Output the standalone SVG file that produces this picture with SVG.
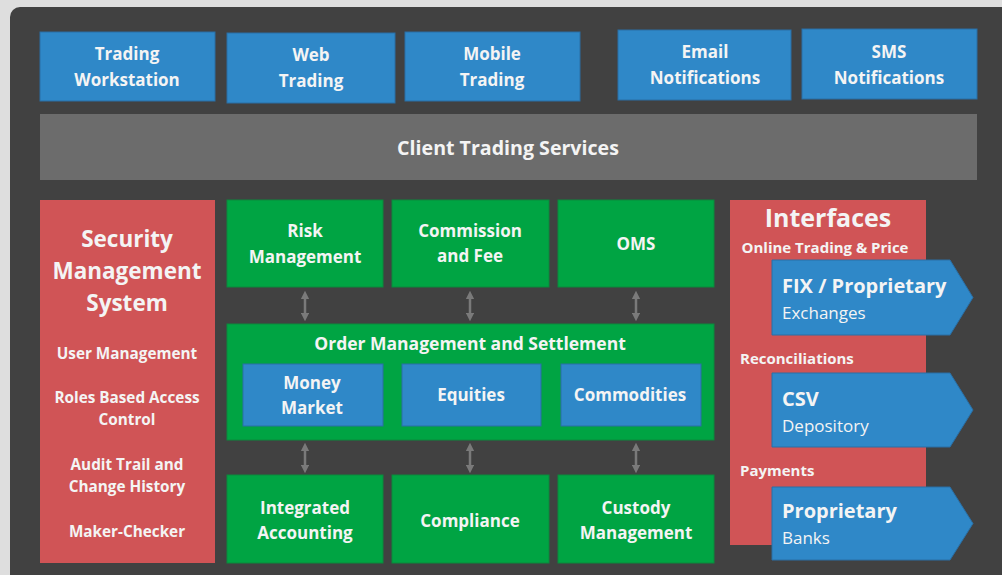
<svg xmlns="http://www.w3.org/2000/svg" width="1002" height="575" viewBox="0 0 1002 575">
<style>
text{font-family:"Open Sans","Noto Sans","Liberation Sans",sans-serif;fill:#f4f4f4;font-weight:bold;text-anchor:middle}
.blue{fill:#2f88c8;stroke:#2a6fa5;stroke-width:1}
.green{fill:#00a443;stroke:#0a8a3c;stroke-width:1}
.red{fill:#d05456}
.t16{font-size:17px}
.sm{font-size:15.3px}
.s14{font-size:15px;text-anchor:start}
.conn{stroke:#7a7a7a;stroke-width:2.5;fill:none;marker-start:url(#ah);marker-end:url(#ah)}
</style>
<defs>
<marker id="ah" viewBox="0 0 10 10" refX="5" refY="5" markerWidth="3.4" markerHeight="3.4" orient="auto-start-reverse" markerUnits="strokeWidth">
<path d="M0,0 L10,5 L0,10 z" fill="#7a7a7a"/>
</marker>
</defs>
<rect x="0" y="0" width="1002" height="575" fill="#dedede"/>
<rect x="10" y="7" width="1010" height="590" rx="10" fill="#414141"/>

<g id="trading-workstation"><rect class="blue" x="40" y="32" width="175" height="69"/><text class="t16" x="127" y="60">Trading</text><text class="t16" x="127" y="86">Workstation</text></g>
<g id="web-trading"><rect class="blue" x="227" y="33" width="168" height="70"/><text class="t16" x="311" y="61">Web</text><text class="t16" x="311" y="87">Trading</text></g>
<g id="mobile-trading"><rect class="blue" x="405" y="32" width="175" height="69"/><text class="t16" x="492" y="60">Mobile</text><text class="t16" x="492" y="86">Trading</text></g>
<g id="email-notifications"><rect class="blue" x="618" y="30" width="173" height="70"/><text class="t16" x="705" y="58">Email</text><text class="t16" x="705" y="84">Notifications</text></g>
<g id="sms-notifications"><rect class="blue" x="802" y="29" width="175" height="70"/><text class="t16" x="889" y="58">SMS</text><text class="t16" x="889" y="84">Notifications</text></g>

<g id="client-trading-services"><rect x="40" y="114" width="937" height="66" fill="#6c6c6c"/><text x="508" y="155" style="font-size:19.6px">Client Trading Services</text></g>

<g id="security-management"><rect class="red" x="40" y="200" width="175" height="363"/>
<text x="127" y="247" style="font-size:22.5px">Security</text>
<text x="127" y="279" style="font-size:22.5px">Management</text>
<text x="127" y="311" style="font-size:22.5px">System</text>
<text class="sm" x="127" y="359">User Management</text>
<text class="sm" x="127" y="403">Roles Based Access</text>
<text class="sm" x="127" y="425">Control</text>
<text class="sm" x="127" y="470">Audit Trail and</text>
<text class="sm" x="127" y="492">Change History</text>
<text class="sm" x="127" y="537">Maker-Checker</text>
</g>

<g id="risk-management"><rect class="green" x="227" y="200" width="156" height="87"/><text class="t16" x="305" y="237">Risk</text><text class="t16" x="305" y="263">Management</text></g>
<g id="commission-fee"><rect class="green" x="392" y="200" width="157" height="87"/><text class="t16" x="470" y="237">Commission</text><text class="t16" x="470" y="262">and Fee</text></g>
<g id="oms"><rect class="green" x="558" y="200" width="156" height="87"/><text class="t16" x="636" y="250">OMS</text></g>

<g id="order-management"><rect class="green" x="227" y="324" width="487" height="116"/><text x="470" y="350" style="font-size:17.5px">Order Management and Settlement</text>
<g id="money-market"><rect class="blue" x="243" y="364" width="140" height="62"/><text class="t16" x="312" y="389">Money</text><text class="t16" x="312" y="414">Market</text></g>
<g id="equities"><rect class="blue" x="402" y="364" width="139" height="62"/><text class="t16" x="471" y="401">Equities</text></g>
<g id="commodities"><rect class="blue" x="561" y="364" width="140" height="62"/><text class="t16" x="630" y="401">Commodities</text></g>
</g>

<g id="integrated-accounting"><rect class="green" x="227" y="475" width="156" height="88"/><text class="t16" x="305" y="514">Integrated</text><text class="t16" x="305" y="539">Accounting</text></g>
<g id="compliance"><rect class="green" x="392" y="475" width="157" height="88"/><text class="t16" x="470" y="527">Compliance</text></g>
<g id="custody-management"><rect class="green" x="558" y="475" width="156" height="88"/><text class="t16" x="636" y="514">Custody</text><text class="t16" x="636" y="539">Management</text></g>

<g id="connectors">
<line class="conn" x1="305" y1="295" x2="305" y2="317"/>
<line class="conn" x1="470" y1="295" x2="470" y2="317"/>
<line class="conn" x1="636" y1="295" x2="636" y2="317"/>
<line class="conn" x1="305" y1="447" x2="305" y2="469"/>
<line class="conn" x1="470" y1="447" x2="470" y2="469"/>
<line class="conn" x1="636" y1="447" x2="636" y2="469"/>
</g>

<g id="interfaces"><rect class="red" x="730" y="200" width="196" height="345"/>
<text x="828" y="227" style="font-size:25px">Interfaces</text>
<text x="825" y="253" style="font-size:15px">Online Trading &amp; Price</text>
<text class="s14" x="740" y="364">Reconciliations</text>
<text class="s14" x="740" y="476">Payments</text>
</g>
<g id="fix-exchanges"><path class="blue" d="M772,260 H950 L973,297.5 L950,335 H772 Z"/><text x="782" y="293" style="font-size:20px;text-anchor:start">FIX / Proprietary</text><text x="782" y="319" style="font-size:17px;font-weight:normal;text-anchor:start">Exchanges</text></g>
<g id="csv-depository"><path class="blue" d="M772,373 H950 L973,410 L950,447 H772 Z"/><text x="782" y="406" style="font-size:20px;text-anchor:start">CSV</text><text x="782" y="432" style="font-size:17px;font-weight:normal;text-anchor:start">Depository</text></g>
<g id="proprietary-banks"><path class="blue" d="M772,487 H950 L973,523.5 L950,560 H772 Z"/><text x="782" y="518" style="font-size:20px;text-anchor:start">Proprietary</text><text x="782" y="544" style="font-size:17px;font-weight:normal;text-anchor:start">Banks</text></g>
</svg>
